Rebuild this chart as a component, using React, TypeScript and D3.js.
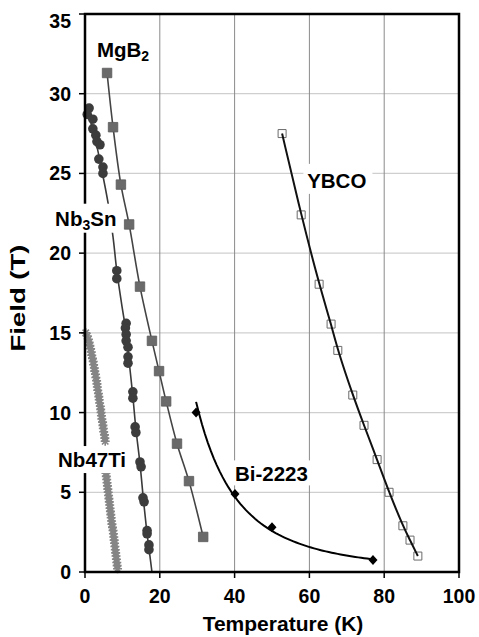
import React from 'react';
import * as d3 from 'd3';

// values: [temperature K, field T]
const mgb2: [number, number][] = [
  [5.9, 31.3], [7.5, 27.9], [9.6, 24.3], [11.8, 21.8], [14.7, 17.9], [17.9, 14.5],
  [19.8, 12.6], [21.7, 10.7], [24.6, 8.05], [27.8, 5.7], [31.6, 2.2],
];

const nb3sn: [number, number][] = [
  [1.1, 29.1], [0.6, 28.7], [2.1, 28.4], [2.1, 27.8], [2.9, 27.4], [3.2, 27.0],
  [4.0, 26.8], [3.7, 25.9], [4.8, 25.4], [4.8, 25.0], [8.5, 18.9], [8.5, 18.4],
  [11.0, 15.6], [10.8, 15.3], [11.0, 14.9], [11.0, 14.5], [11.5, 14.1], [11.5, 13.5],
  [11.5, 13.1], [12.8, 11.3], [12.8, 10.9], [13.4, 9.1], [13.6, 8.75], [14.7, 6.9],
  [15.0, 6.6], [15.5, 4.65], [15.8, 4.4], [16.6, 2.6], [16.6, 2.4], [17.1, 1.7], [17.1, 1.4],
];

// fitted line for Nb3Sn as drawn in the picture (it runs on to zero field)
const nb3snFit: [number, number][] = [
  [0.5, 29.0], [2.5, 27.4], [4.5, 25.2], [6.2, 23.1], [7.5, 21.0], [8.5, 18.9],
  [9.8, 16.8], [11.0, 15.0], [11.9, 13.0], [12.8, 11.0], [13.6, 9.0], [14.7, 6.8],
  [15.6, 4.6], [16.5, 2.6], [17.2, 1.3], [17.9, 0],
];

const nb47ti: [number, number][] = [
  [0.2, 15.0], [0.6, 14.8], [0.9, 14.6], [1.1, 14.4], [1.3, 14.2], [1.5, 14.0],
  [1.7, 13.8], [1.8, 13.6], [2.0, 13.4], [2.2, 13.2], [2.3, 13.0], [2.5, 12.8],
  [2.6, 12.6], [2.8, 12.4], [2.9, 12.2], [3.1, 12.0], [3.2, 11.8], [3.3, 11.6],
  [3.4, 11.4], [3.6, 11.2], [3.7, 11.0], [3.8, 10.8], [3.9, 10.6], [4.1, 10.4],
  [4.2, 10.2], [4.3, 10.0], [4.4, 9.8], [4.5, 9.6], [4.7, 9.4], [4.8, 9.2],
  [4.9, 9.0], [5.0, 8.8], [5.2, 8.6], [5.3, 8.4], [5.4, 8.2],
  [5.6, 6.2], [5.7, 6.0], [5.8, 5.8], [5.9, 5.6], [6.0, 5.4], [6.1, 5.2],
  [6.2, 5.0], [6.3, 4.8], [6.4, 4.6], [6.5, 4.4], [6.6, 4.2], [6.7, 4.0],
  [6.8, 3.8], [6.9, 3.6], [7.0, 3.4], [7.1, 3.2], [7.2, 3.0], [7.35, 2.8],
  [7.5, 2.6], [7.6, 2.4], [7.7, 2.2], [7.8, 2.0], [7.9, 1.8], [8.0, 1.6],
  [8.1, 1.4], [8.2, 1.2], [8.3, 1.0], [8.4, 0.8], [8.5, 0.6], [8.6, 0.4], [8.7, 0.2],
];

const bi2223: [number, number][] = [[29.7, 10.0], [40.1, 4.9], [50.0, 2.8], [77.0, 0.75]];

const ybco: [number, number][] = [
  [52.7, 27.5], [57.8, 22.4], [62.6, 18.05], [65.8, 15.55], [67.6, 13.9], [71.6, 11.1],
  [74.6, 9.2], [78.1, 7.05], [81.3, 5.0], [85.0, 2.9], [86.9, 2.0], [89.0, 1.0],
];

const xTicks = [0, 20, 40, 60, 80, 100];
const yTicks = [0, 5, 10, 15, 20, 25, 30, 35];

const FONT = '"Liberation Sans", Arial, sans-serif';

// power-law trendline (like the spreadsheet one) fitted to the Bi-2223 points
function powerFit(pts: [number, number][]) {
  const lx = pts.map(p => Math.log(p[0]));
  const ly = pts.map(p => Math.log(p[1]));
  const mx = d3.mean(lx)!;
  const my = d3.mean(ly)!;
  const b = d3.sum(lx, (v, i) => (v - mx) * (ly[i] - my)) / d3.sum(lx, v => (v - mx) ** 2);
  const a = Math.exp(my - b * mx);
  const [x0, x1] = d3.extent(pts, p => p[0]) as [number, number];
  return d3.range(0, 61).map(i => {
    const x = x0 + ((x1 - x0) * i) / 60;
    return [x, a * Math.pow(x, b)] as [number, number];
  });
}

export default function App() {
  const x = d3.scaleLinear().domain([0, 100]).range([85, 459]);
  const y = d3.scaleLinear().domain([0, 35]).range([572, 14]);

  const line = (c: d3.CurveFactory) =>
    d3.line<[number, number]>().x(d => x(d[0])).y(d => y(d[1])).curve(c);

  const square = d3.symbol().type(d3.symbolSquare).size(90)()!;
  const openSquare = d3.symbol().type(d3.symbolSquare).size(64)()!;
  const diamond = 'M0,-5L4.5,0L0,5L-4.5,0Z';
  const star = 'M-4.5,0H4.5M0,-4.5V4.5M-3.2,-3.2L3.2,3.2M-3.2,3.2L3.2,-3.2';

  const labelBg = [
    { x: x(-8.8), y: y(23.1), w: 68, h: 29 },
    { x: x(-8.3), y: y(7.9), w: 78, h: 27 },
    { x: x(58.4), y: y(25.6), w: 69, h: 30 },
    { x: x(39.3), y: y(7.0), w: 80, h: 25 },
  ];

  return (
    <svg width={479} height={637} style={{ position: 'absolute', left: 0, top: 0, background: '#fff' }}
      fontFamily={FONT} fontWeight="bold">
      {/* grid */}
      {yTicks.slice(1, -1).map(t => (
        <line key={'h' + t} x1={x(0)} x2={x(100)} y1={y(t)} y2={y(t)} stroke="#cfcfcf" strokeWidth={1.2} />
      ))}
      {xTicks.slice(1, -1).map(t => (
        <line key={'v' + t} x1={x(t)} x2={x(t)} y1={y(0)} y2={y(35)} stroke="#8a8a8a" strokeWidth={1} />
      ))}

      {/* Nb47Ti */}
      {nb47ti.map((d, i) => (
        <path key={'ti' + i} d={star} transform={`translate(${x(d[0])},${y(d[1])})`}
          stroke="#858585" strokeWidth={1.6} fill="none" />
      ))}

      {/* Nb3Sn */}
      <path d={line(d3.curveCatmullRom)(nb3snFit)!} fill="none" stroke="#3a3a3a" strokeWidth={1.6} />
      {nb3sn.map((d, i) => (
        <circle key={'sn' + i} cx={x(d[0])} cy={y(d[1])} r={4.8} fill="#3c3c3c" />
      ))}

      {/* MgB2 */}
      <path d={line(d3.curveCatmullRom)(mgb2)!} fill="none" stroke="#444" strokeWidth={1.6} />
      {mgb2.map((d, i) => (
        <path key={'mg' + i} d={square} transform={`translate(${x(d[0])},${y(d[1])})`}
          fill="#6a6a6a" stroke="#5a5a5a" strokeWidth={0.8} />
      ))}

      {/* Bi-2223 */}
      <path d={line(d3.curveLinear)(powerFit(bi2223))!} fill="none" stroke="#000" strokeWidth={2} />
      {bi2223.map((d, i) => (
        <path key={'bi' + i} d={diamond} transform={`translate(${x(d[0])},${y(d[1])})`} fill="#000" />
      ))}

      {/* YBCO */}
      {ybco.map((d, i) => (
        <path key={'yb' + i} d={openSquare} transform={`translate(${x(d[0])},${y(d[1])})`}
          fill="#fff" stroke="#6a6a6a" strokeWidth={1} />
      ))}
      <path d={line(d3.curveBasis)(ybco)!} fill="none" stroke="#111" strokeWidth={2} />

      {/* frame */}
      <rect x={x(0)} y={y(35)} width={x(100) - x(0)} height={y(0) - y(35)} fill="none" stroke="#000" strokeWidth={2.5} />

      {/* ticks */}
      {xTicks.map(t => (
        <g key={'xt' + t}>
          <line x1={x(t)} x2={x(t)} y1={y(0)} y2={y(0) + 6} stroke="#000" strokeWidth={1.5} />
          <text x={x(t)} y={603} textAnchor="middle" fontSize={19.5}>{t}</text>
        </g>
      ))}
      {yTicks.map(t => (
        <g key={'yt' + t}>
          <line x1={x(0) - 6} x2={x(0)} y1={y(t)} y2={y(t)} stroke="#000" strokeWidth={1.5} />
          <text x={71} y={Math.max(y(t), 21)} dy="0.36em" textAnchor="end" fontSize={19.5}>{t}</text>
        </g>
      ))}

      {/* label backgrounds */}
      {labelBg.map((r, i) => (
        <rect key={'bg' + i} x={r.x} y={r.y} width={r.w} height={r.h} fill="#fff" />
      ))}

      {/* series labels */}
      <text x={x(3.2)} y={y(32.3)} fontSize={20.5}>MgB<tspan fontSize={14} dy={4}>2</tspan></text>
      <text x={x(-8.0)} y={y(21.7)} fontSize={20.5}>Nb<tspan fontSize={14} dy={4}>3</tspan><tspan dy={-4}>Sn</tspan></text>
      <text x={x(-7.2)} y={y(6.6)} fontSize={20.5}>Nb47Ti</text>
      <text x={x(40.1)} y={y(5.7)} fontSize={20.5}>Bi-2223</text>
      <text x={x(59.4)} y={y(24.1)} fontSize={20.5}>YBCO</text>

      {/* axis titles */}
      <text x={283} y={631} textAnchor="middle" fontSize={21}>Temperature (K)</text>
      <text transform="translate(25,298) rotate(-90)" textAnchor="middle" fontSize={20.5}
        textLength={107} lengthAdjust="spacingAndGlyphs">Field (T)</text>
    </svg>
  );
}
